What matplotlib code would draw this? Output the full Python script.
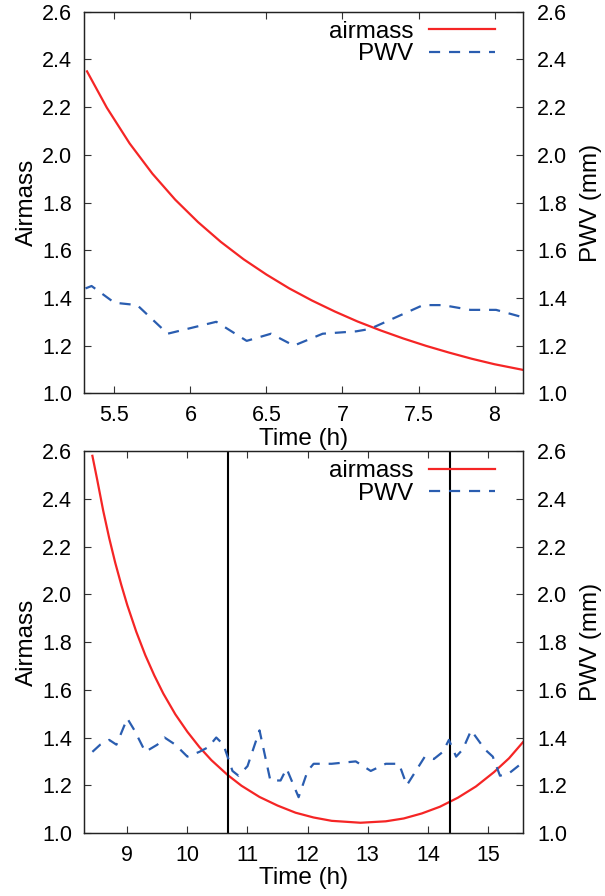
import matplotlib
matplotlib.use("Agg")
import matplotlib.pyplot as plt

plt.rcParams['font.family'] = ['Liberation Sans', 'DejaVu Sans']
plt.rcParams['font.size'] = 17.5

# top panel: early night
t1_air = [5.32, 5.45, 5.60, 5.75, 5.90, 6.05, 6.20, 6.35, 6.50, 6.65, 6.80, 6.95, 7.10, 7.25, 7.40, 7.55, 7.70, 7.85, 8.00, 8.19]
air1 = [2.350, 2.198, 2.048, 1.921, 1.812, 1.718, 1.635, 1.562, 1.498, 1.440, 1.389, 1.343, 1.301, 1.264, 1.230, 1.199, 1.171, 1.145, 1.122, 1.098]
t1_pwv = [5.31, 5.35, 5.50, 5.65, 5.85, 6.17, 6.37, 6.53, 6.68, 6.87, 7.09, 7.18, 7.53, 7.66, 7.84, 8.01, 8.18]
pwv1 = [1.44, 1.45, 1.38, 1.37, 1.25, 1.30, 1.22, 1.25, 1.20, 1.25, 1.26, 1.27, 1.37, 1.37, 1.35, 1.35, 1.32]

# bottom panel: full night
t2_air = [8.42, 8.50, 8.60, 8.70, 8.80, 8.90, 9.00, 9.15, 9.30, 9.45, 9.60, 9.80, 10.0, 10.2, 10.4, 10.67, 10.9, 11.2, 11.5, 11.8, 12.1, 12.4, 12.88, 13.3, 13.6, 13.9, 14.2, 14.5, 14.8, 15.1, 15.35, 15.58]
air2 = [2.58, 2.48, 2.35, 2.235, 2.132, 2.04, 1.955, 1.843, 1.745, 1.66, 1.584, 1.497, 1.424, 1.36, 1.305, 1.243, 1.198, 1.151, 1.115, 1.085, 1.065, 1.051, 1.043, 1.049, 1.061, 1.082, 1.110, 1.148, 1.195, 1.255, 1.313, 1.38]
t2_pwv = [8.42, 8.55, 8.70, 8.82, 9.00, 9.12, 9.30, 9.50, 9.62, 9.80, 10.0, 10.2, 10.35, 10.48, 10.60, 10.75, 10.85, 11.0, 11.2, 11.38, 11.55, 11.65, 11.85, 12.0, 12.1, 12.4, 12.8, 13.05, 13.3, 13.52, 13.65, 13.95, 14.1, 14.25, 14.35, 14.47, 14.58, 14.72, 14.95, 15.08, 15.2, 15.35, 15.6]
pwv2 = [1.34, 1.37, 1.39, 1.37, 1.48, 1.43, 1.34, 1.37, 1.40, 1.37, 1.32, 1.34, 1.36, 1.40, 1.37, 1.26, 1.24, 1.28, 1.43, 1.22, 1.22, 1.27, 1.15, 1.26, 1.29, 1.29, 1.30, 1.26, 1.29, 1.29, 1.20, 1.32, 1.31, 1.34, 1.39, 1.32, 1.35, 1.43, 1.35, 1.32, 1.24, 1.25, 1.30]
obs_window = [10.67, 14.37]

panels = [
    (t1_air, air1, t1_pwv, pwv1, (5.3, 8.19), [5.5, 6, 6.5, 7, 7.5, 8], ['5.5', '6', '6.5', '7', '7.5', '8'], []),
    (t2_air, air2, t2_pwv, pwv2, (8.28, 15.59), [9, 10, 11, 12, 13, 14, 15], None, obs_window),
]
yticks = [1.0, 1.2, 1.4, 1.6, 1.8, 2.0, 2.2, 2.4, 2.6]

fig = plt.figure(figsize=(6.05, 8.96), dpi=100)
boxes = [[0.1388, 0.561, 0.7264, 0.4259], [0.1388, 0.0703, 0.7264, 0.4263]]

for box, (ta, am, tp, pw, xl, xt, xtl, vl) in zip(boxes, panels):
    ax = fig.add_axes(box)
    ax2 = ax.twinx()
    l1, = ax.plot(ta, am, color='#f52525', lw=1.6, label='airmass')
    l2, = ax2.plot(tp, pw, color='#2a5db0', lw=1.6, dashes=(5, 4), label='PWV')
    for v in vl:
        ax.axvline(v, color='black', lw=1.5)
    for a in (ax, ax2):
        a.set_ylim(1.0, 2.6)
        a.set_yticks(yticks)
        a.set_yticklabels(['%.1f' % y for y in yticks])
        for s in a.spines.values():
            s.set_color('#222222')
            s.set_linewidth(0.9)
    ax.set_xlim(*xl)
    ax.set_xticks(xt)
    if xtl:
        ax.set_xticklabels(xtl)
    ax.tick_params(direction='in', length=5, width=0.8, color='#333333', labelsize=15.5, top=True, right=False)
    ax.tick_params(axis='x', pad=8.5)
    ax.tick_params(axis='y', pad=8.6)
    ax2.tick_params(direction='in', length=5, width=0.8, color='#333333', labelsize=15.5, pad=10)
    ax.set_xlabel('Time (h)', labelpad=1)
    ax.set_ylabel('Airmass', labelpad=3)
    ax2.set_ylabel('PWV (mm)', labelpad=9)
    ax2.legend([l1, l2], ['airmass', 'PWV'], loc='upper right', frameon=False,
               markerfirst=False, handlelength=2.7, handletextpad=0.65,
               labelspacing=0.02, borderpad=0, borderaxespad=0,
               bbox_to_anchor=(0.935, 0.976))

fig.savefig('out.png', dpi=100)
